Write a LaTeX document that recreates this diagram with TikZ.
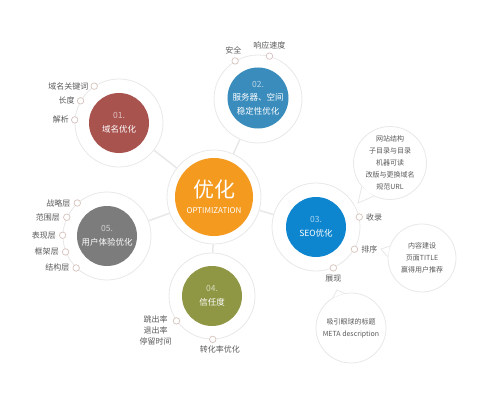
\documentclass[tikz,border=0pt]{standalone}
\usepackage{fontspec}
\setmainfont{Noto Sans CJK SC}
\usetikzlibrary{positioning}
\definecolor{ringgrey}{HTML}{E8E8E8}
\definecolor{dotrim}{HTML}{D6C2BC}
\definecolor{labelgrey}{HTML}{5A5A5A}
\definecolor{optorange}{HTML}{F39A1F}
\definecolor{domainred}{HTML}{A9534F}
\definecolor{serverblue}{HTML}{3A8CBD}
\definecolor{seoblue}{HTML}{0E86CF}
\definecolor{trustgreen}{HTML}{8F9744}
\definecolor{uxgrey}{HTML}{7C7C7C}
\begin{document}
\begin{tikzpicture}[x=1pt,y=-1pt,
    ring/.style={circle,draw=ringgrey,line width=0.8pt,fill=white,minimum size=88pt,inner sep=0pt},
    core/.style={circle,fill=#1,minimum size=60pt,inner sep=0pt,text=white,align=center,font=\fontsize{8.5}{13.5}\selectfont},
    dot/.style={circle,draw=dotrim,fill=white,line width=0.7pt,minimum size=6.5pt,inner sep=0pt},
    lbl/.style={text=labelgrey,font=\fontsize{8}{11}\selectfont,inner sep=1pt},
    bubble/.style={circle,draw=ringgrey,fill=white,line width=0.8pt,minimum size=70pt,inner sep=0pt,text=labelgrey,align=center,font=\fontsize{7}{12}\selectfont},
    link/.style={draw=ringgrey,line width=1.5pt}]
    \useasboundingbox (0,0) rectangle (500,409);
    % rings
    \node [ring, minimum size=94pt] (ctr) at (214,197) {};
    \node [ring] (r1) at (119,123) {};
    \node [ring] (r2) at (258,99) {};
    \node [ring] (r3) at (316,227) {};
    \node [ring, minimum size=86pt] (r4) at (212,296) {};
    \node [ring] (r5) at (107,236) {};
    \draw [link] (ctr) -- (r1);
    \draw [link] (ctr) -- (r2);
    \draw [link] (ctr) -- (r3);
    \draw [link] (ctr) -- (r4);
    \draw [link] (ctr) -- (r5);
    % cores
    \node [core=optorange, minimum size=78pt, font=\fontsize{21}{17}\selectfont] (c0) at (214,197)
        {优化\\[-1pt]{\fontsize{8}{8}\selectfont OPTIMIZATION}};
    \node [core=domainred] (c1) at (119,123) {\textcolor{domainred!35!white}{01.}\\域名优化};
    \node [core=serverblue] (c2) at (258,98) {\textcolor{serverblue!35!white}{02.}\\服务器、空间\\稳定性优化};
    \node [core=seoblue] (c3) at (316,227) {\textcolor{seoblue!35!white}{03.}\\SEO优化};
    \node [core=trustgreen] (c4) at (212,296) {\textcolor{trustgreen!35!white}{04.}\\信任度};
    \node [core=uxgrey] (c5) at (107,236) {\textcolor{uxgrey!35!white}{05.}\\用户体验优化};
    % dots and labels
    \node [dot] (d11) at (r1.124) {};
    \node [dot] (d12) at (r1.150) {};
    \node [dot] (d13) at (r1.176) {};
    \node [lbl, left=1pt of d11] (k11) {域名关键词};
    \node [lbl, left=1pt of d12] (k12) {长度};
    \node [lbl, left=1pt of d13] (k13) {解析};
    \node [dot] (d21) at (r2.121) {};
    \node [dot] (d22) at (r2.75) {};
    \node [lbl, above left=3pt and -10pt of d21] (k21) {安全};
    \node [lbl, above=2pt of d22] (k22) {响应速度};
    \node [dot] (d31) at (r3.13) {};
    \node [dot] (d32) at (r3.-30) {};
    \node [dot] (d33) at (r3.-67) {};
    \node [lbl, right=2pt of d31] (k31) {收录};
    \node [lbl, right=2pt of d32] (k32) {排序};
    \node [lbl, below=2pt of d33] (k33) {展现};
    \node [dot] (d41) at (r4.215) {};
    \node [dot] (d42) at (r4.-89) {};
    \node [lbl, align=center, anchor=north east] (k41) at ([yshift=6pt]d41.west) {跳出率\\退出率\\停留时间};
    \node [lbl, anchor=north] (k42) at ([xshift=7pt,yshift=-2pt]d42.south) {转化率优化};
    \node [dot] (d51) at (r5.132) {};
    \node [dot] (d52) at (r5.155) {};
    \node [dot] (d53) at (r5.179) {};
    \node [dot] (d54) at (r5.201) {};
    \node [dot] (d55) at (r5.226) {};
    \node [lbl, left=2pt of d51] (k51) {战略层};
    \node [lbl, left=2pt of d52] (k52) {范围层};
    \node [lbl, left=2pt of d53] (k53) {表现层};
    \node [lbl, left=2pt of d54] (k54) {框架层};
    \node [lbl, left=2pt of d55] (k55) {结构层};
    % bubbles
    \node [bubble] (b1) at (390,163) {网站结构\\子目录与目录\\机器可读\\改版与更换域名\\规范URL};
    \node [bubble, minimum size=68pt] (b2) at (422,258) {内容建设\\页面TITLE\\赢得用户推荐};
    \node [bubble] (b3) at (351,328) {吸引眼球的标题\\META description};
    \coordinate (t1) at (358,203);
    \coordinate (t2) at (381,249);
    \coordinate (t3) at (337,290);
    \fill [white] (b1.220) -- (t1) -- (b1.244) -- cycle;
    \fill [white] (b2.160) -- (t2) -- (b2.178) -- cycle;
    \fill [white] (b3.101) -- (t3) -- (b3.121) -- cycle;
    \draw [ringgrey, line width=0.8pt] (b1.220) -- (t1) -- (b1.244);
    \draw [ringgrey, line width=0.8pt] (b2.160) -- (t2) -- (b2.178);
    \draw [ringgrey, line width=0.8pt] (b3.101) -- (t3) -- (b3.121);
\end{tikzpicture}
\end{document}
